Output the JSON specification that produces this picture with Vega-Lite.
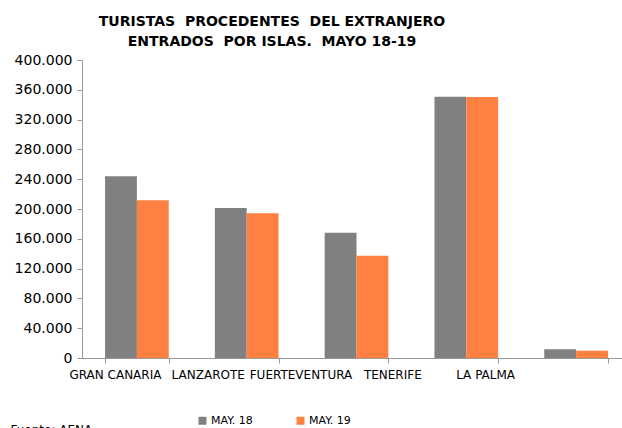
{
  "$schema": "https://vega.github.io/schema/vega-lite/v6.json",
  "width": 540,
  "height": 298,
  "autosize": {"type": "none"},
  "padding": {"left": 82, "top": 60, "right": 0, "bottom": 70},
  "background": "white",
  "config": {
    "locale": {"number": {"decimal": ",", "thousands": ".", "grouping": [3], "currency": ["", " €"]}},
    "view": {"stroke": null},
    "font": "DejaVu Sans"
  },
  "title": {
    "text": ["TURISTAS\u00a0 PROCEDENTES\u00a0 DEL EXTRANJERO", "ENTRADOS\u00a0 POR ISLAS.\u00a0 MAYO 18-19"],
    "fontSize": 14,
    "fontWeight": "bold",
    "font": "DejaVu Sans",
    "color": "black",
    "anchor": "middle",
    "dx": -80,
    "offset": 4,
    "lineHeight": 20
  },
  "data": {
    "values": [
      {"isla": "GRAN CANARIA", "periodo": "MAY. 18", "turistas": 244000},
      {"isla": "GRAN CANARIA", "periodo": "MAY. 19", "turistas": 211700},
      {"isla": "LANZAROTE", "periodo": "MAY. 18", "turistas": 201300},
      {"isla": "LANZAROTE", "periodo": "MAY. 19", "turistas": 194200},
      {"isla": "FUERTEVENTURA", "periodo": "MAY. 18", "turistas": 168200},
      {"isla": "FUERTEVENTURA", "periodo": "MAY. 19", "turistas": 137300},
      {"isla": "TENERIFE", "periodo": "MAY. 18", "turistas": 350700},
      {"isla": "TENERIFE", "periodo": "MAY. 19", "turistas": 350500},
      {"isla": "LA PALMA", "periodo": "MAY. 18", "turistas": 11700},
      {"isla": "LA PALMA", "periodo": "MAY. 19", "turistas": 9800}
    ]
  },
  "mark": {"type": "bar"},
  "encoding": {
    "x": {
      "field": "isla",
      "type": "nominal",
      "sort": null,
      "scale": {"range": [0, 549], "paddingInner": 0.42, "paddingOuter": 0.21},
      "axis": {
        "labelAngle": 0,
        "labelFontSize": 12,
        "labelColor": "black",
        "labelPadding": 6,
        "tickBand": "extent",
        "tickSize": 5,
        "tickColor": "#999999",
        "domainColor": "#999999",
        "labelLimit": 200,
        "labelOffset": {
          "condition": [
            {"test": "datum.value === 'GRAN CANARIA'", "value": -22},
            {"test": "datum.value === 'LANZAROTE'", "value": -39},
            {"test": "datum.value === 'FUERTEVENTURA'", "value": -56},
            {"test": "datum.value === 'TENERIFE'", "value": -74}
          ],
          "value": -91
        },
        "title": "Fuente: AENA",
        "titleFontSize": 12,
        "titleFontWeight": "normal",
        "titleColor": "black",
        "titleAlign": "left",
        "titleBaseline": "top",
        "titleX": -72,
        "titleY": 66
      }
    },
    "xOffset": {"field": "periodo", "type": "nominal", "sort": null},
    "y": {
      "field": "turistas",
      "type": "quantitative",
      "scale": {"domain": [0, 400000]},
      "axis": {
        "values": [0, 40000, 80000, 120000, 160000, 200000, 240000, 280000, 320000, 360000, 400000],
        "format": ",d",
        "grid": false,
        "title": null,
        "labelFontSize": 14,
        "labelColor": "black",
        "labelPadding": 5,
        "tickSize": 5,
        "tickColor": "#999999",
        "domainColor": "#999999"
      }
    },
    "color": {
      "field": "periodo",
      "type": "nominal",
      "sort": null,
      "scale": {"domain": ["MAY. 18", "MAY. 19"], "range": ["#808080", "#FF8040"]},
      "legend": {
        "title": null,
        "orient": "none",
        "direction": "horizontal",
        "legendX": 115,
        "legendY": 355,
        "symbolType": "square",
        "symbolSize": 64,
        "symbolStrokeWidth": 0,
        "labelFontSize": 11,
        "labelColor": "black",
        "labelOffset": 3,
        "columnPadding": 42
      }
    }
  }
}
